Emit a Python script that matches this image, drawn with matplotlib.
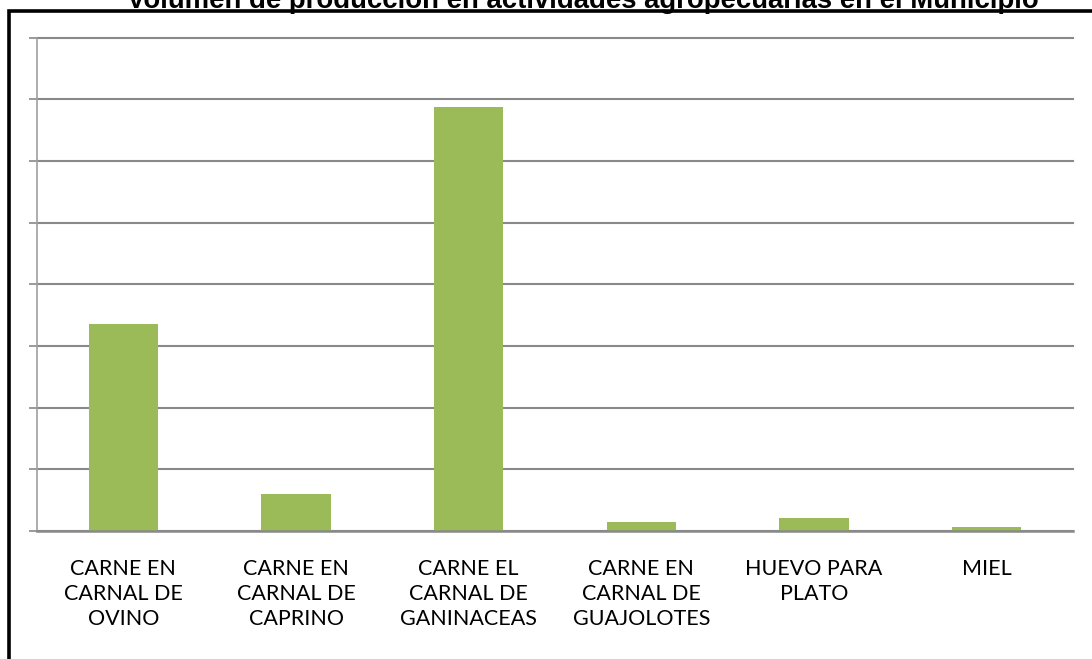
import numpy as np
import matplotlib.pyplot as plt
from matplotlib.patches import Rectangle

categories = ["CARNE EN\nCARNAL DE\nOVINO", "CARNE EN\nCARNAL DE\nCAPRINO",
              "CARNE EL\nCARNAL DE\nGANINACEAS", "CARNE EN\nCARNAL DE\nGUAJOLOTES",
              "HUEVO PARA\nPLATO", "MIEL"]
volumen = [336, 60, 688, 14, 21, 6]
y_ticks = [0, 100, 200, 300, 400, 500, 600, 700, 800]
titulo = "Volumen de producción en actividades agropecuarias en el Municipio"

W, H = 1092, 659
fig = plt.figure(figsize=(W / 100, H / 100), dpi=100)
ax = fig.add_axes([37 / W, 1 - 531 / H, (1073 - 37) / W, (531 - 37.7) / H])

x = np.arange(len(categories))
ax.bar(x, volumen, width=0.4, color="#9BBB59", zorder=3)

ax.set_xlim(-0.5, len(categories) - 0.5)
ax.set_ylim(0, 800)
ax.set_yticks(y_ticks)
ax.set_yticklabels([])
ax.yaxis.grid(True, color="#898989", linewidth=1.5, zorder=0)
for gl in ax.get_ygridlines():
    gl.set_clip_on(False)
ax.set_xticks(x)
ax.set_xticklabels(categories, family="Lato", fontsize=15.5, linespacing=1.33)
ax.tick_params(axis="x", length=0, pad=20)
ax.tick_params(axis="y", length=6, width=1.2, color="#898989", direction="out")

for s in ["top", "right"]:
    ax.spines[s].set_visible(False)
ax.spines["left"].set_color("#a0a0a0")
ax.spines["left"].set_linewidth(1.2)
ax.spines["bottom"].set_color("#898989")
ax.spines["bottom"].set_linewidth(1.8)
ax.spines["bottom"].set_zorder(4)

# borde negro del marco
fig.patches.append(Rectangle((8.5 / W, -0.2), 1.2, 1 - 11 / H + 0.2,
                             transform=fig.transFigure, fill=False,
                             edgecolor="black", linewidth=2.6, zorder=5))

# titulo cortado en la parte superior
fig.text(583 / W, 1 - 8 / H, titulo, ha="center", va="baseline",
         family="Liberation Sans", fontweight="bold", fontsize=19.8, zorder=1)

fig.savefig("out.png", dpi=100)
